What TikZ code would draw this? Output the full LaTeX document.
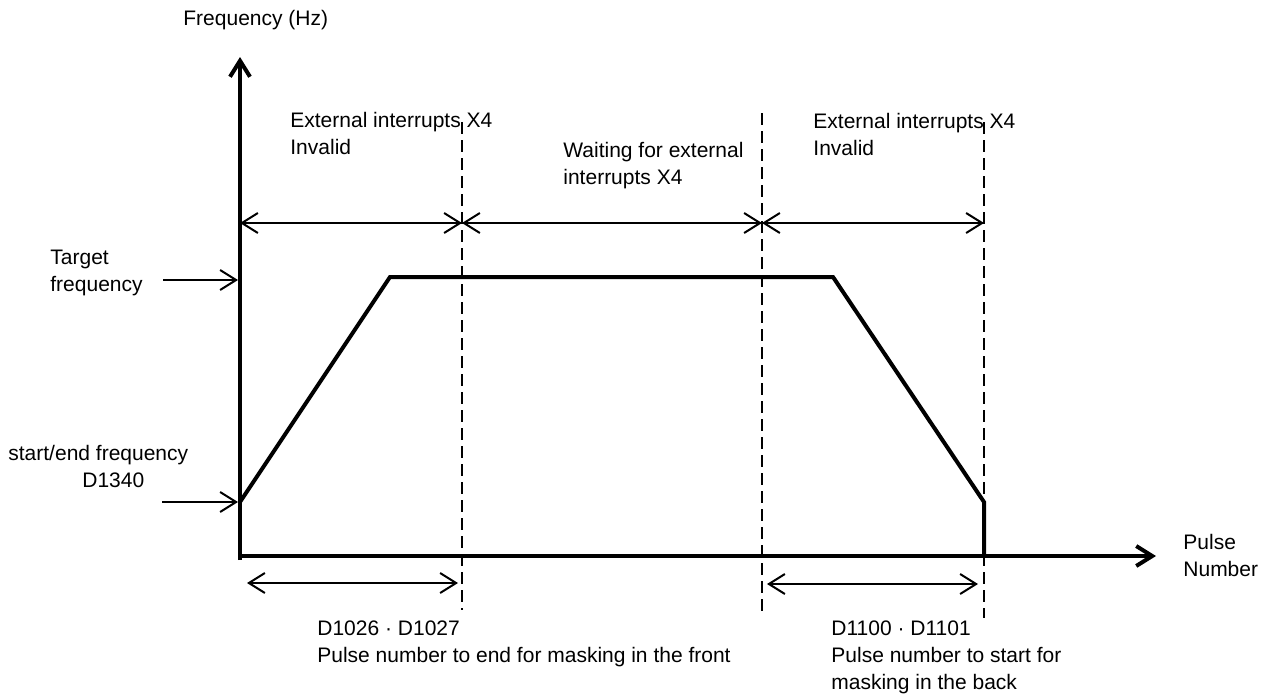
\documentclass[tikz,border=0pt]{standalone}
\usepackage{fontspec}
\setmainfont{Liberation Sans}
\usetikzlibrary{arrows.meta}
\begin{document}
\begin{tikzpicture}[x=0.5pt,y=-0.5pt,
  lbl/.style={font=\fontsize{10.5}{13.5}\selectfont, inner sep=0pt, align=left, anchor=west},
  barb/.tip={Straight Barb[length=8pt,width=10pt]},
  axisline/.style={line width=2pt, -barb},
  curveline/.style={line width=2pt, line join=miter},
  dimline/.style={line width=1pt, barb-barb},
  ptrline/.style={line width=1pt, -barb},
  guide/.style={line width=1.3pt, dash pattern=on 6pt off 3pt}]
\useasboundingbox (0,0) rectangle (1268,697);

% axes
\coordinate (ybot) at (240,560);
\coordinate (ytop) at (240,57);
\coordinate (xleft) at (238,556);
\coordinate (xright) at (1156,556);
\draw[axisline] (ybot) -- (ytop);
\draw[axisline] (xleft) -- (xright);

% dashed guides
\coordinate (d1t) at (462,122); \coordinate (d1b) at (462,610);
\coordinate (d2t) at (762,113); \coordinate (d2b) at (762,615);
\coordinate (d3t) at (984,122); \coordinate (d3b) at (984,618);
\draw[guide] (d1t) -- (d1b);
\draw[guide] (d2t) -- (d2b);
\draw[guide] (d3t) -- (d3b);

% frequency profile
\coordinate (p0) at (240,502);
\coordinate (p1) at (390,277);
\coordinate (p2) at (833,277);
\coordinate (p3) at (984,502);
\coordinate (p4) at (984,556);
\draw[curveline] (p0) -- (p1) -- (p2) -- (p3) -- (p4);

% top dimension arrows
\coordinate (a0) at (240,223);
\coordinate (a1) at (462,223);
\coordinate (a2) at (762,223);
\coordinate (a3) at (984,223);
\draw[dimline] (a0) -- (a1);
\draw[dimline] (a1) -- (a2);
\draw[dimline] (a2) -- (a3);

% bottom dimension arrows
\coordinate (b0) at (247,583); \coordinate (b1) at (458,583);
\coordinate (b2) at (767,584); \coordinate (b3) at (978,584);
\draw[dimline] (b0) -- (b1);
\draw[dimline] (b2) -- (b3);

% left pointers
\coordinate (t0) at (163,280); \coordinate (t1) at (238,280);
\coordinate (s0) at (162,502); \coordinate (s1) at (238,502);
\draw[ptrline] (t0) -- (t1);
\draw[ptrline] (s0) -- (s1);

% labels
\node[lbl] (freq) at (183,20) {Frequency (Hz)};
\node[lbl] (ext1) at (290,133) {External interrupts X4\\Invalid};
\node[lbl] (wait) at (563,166) {Waiting for external\\interrupts X4};
\node[lbl] (ext2) at (813,134) {External interrupts X4\\Invalid};
\node[lbl] (target) at (50,273) {Target\\frequency};
\node[lbl] (startend) at (8,466) {start/end frequency\\\hspace*{37pt}D1340};
\node[lbl] (pulse) at (1183,555) {Pulse\\Number};
\node[lbl] (front) at (317,644) {D1026 · D1027\\Pulse number to end for masking in the front};
\node[lbl] (back) at (831,657) {D1100 · D1101\\Pulse number to start for\\masking in the back};
\end{tikzpicture}
\end{document}
